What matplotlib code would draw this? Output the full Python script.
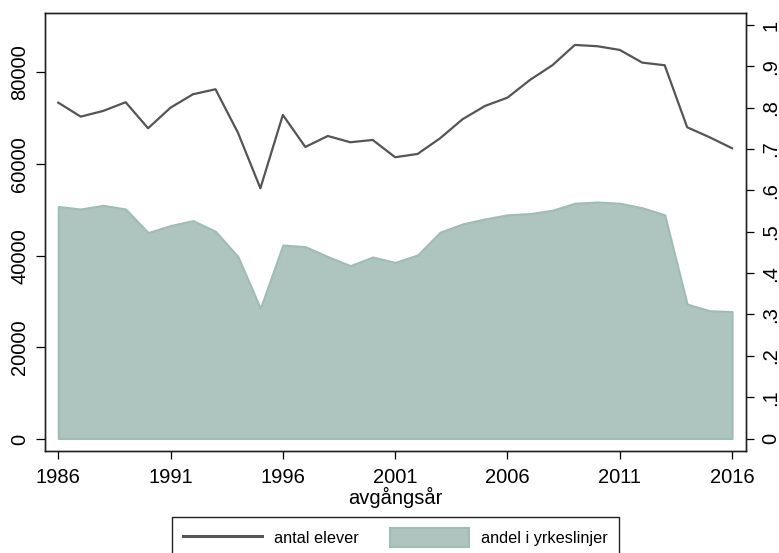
import matplotlib
matplotlib.use("Agg")
import matplotlib.pyplot as plt
from matplotlib.lines import Line2D
from matplotlib.patches import Patch

plt.rcParams['font.family'] = ['Liberation Sans', 'DejaVu Sans']

years = list(range(1986, 2017))
antal_elever = [73380, 70330, 71570, 73470, 67790, 72290, 75210, 76300, 66830, 54700,
                70700, 63710, 66110, 64740, 65240, 61470, 62190, 65610, 69760, 72660,
                74470, 78330, 81540, 85970, 85690, 84880, 82110, 81540, 68010, 65830,
                63430]
andel_yrke = [0.561, 0.555, 0.564, 0.555, 0.498, 0.515, 0.527, 0.501, 0.440, 0.315,
              0.468, 0.464, 0.440, 0.418, 0.439, 0.426, 0.444, 0.499, 0.519, 0.531,
              0.541, 0.544, 0.552, 0.569, 0.572, 0.569, 0.558, 0.541, 0.325, 0.309,
              0.307]
x_ticks = [1986, 1991, 1996, 2001, 2006, 2011, 2016]
left_ticks = [0, 20000, 40000, 60000, 80000]
right_ticks = [0, .1, .2, .3, .4, .5, .6, .7, .8, .9, 1]
right_labels = ['0', '.1', '.2', '.3', '.4', '.5', '.6', '.7', '.8', '.9', '1']
x_label = 'avgångsår'
legend_labels = ['antal elever', 'andel i yrkeslinjer']

W, H = 779, 553
fig = plt.figure(figsize=(W / 100, H / 100), dpi=100)
ax1 = fig.add_axes([45 / W, (H - 451) / H, (746 - 45) / W, (451 - 13) / H])
ax2 = ax1.twinx()

area_face = '#adc4bf'
area_edge = '#9fbcb5'
line_col = '#555555'

ax2.fill_between(years, 0, andel_yrke, facecolor=area_face, edgecolor=area_edge,
                 linewidth=1.5)
ax1.plot(years, antal_elever, color=line_col, linewidth=1.6)

ax1.set_zorder(ax2.get_zorder() + 1)
ax1.patch.set_visible(False)

ax1.set_xlim(1985.41, 2016.62)
ax1.set_ylim(-2618, 92937)
ax2.set_ylim(-0.0302, 1.029)

ax1.set_xticks(x_ticks)
ax1.set_xticklabels([str(t) for t in x_ticks])
ax1.set_yticks(left_ticks)
ax1.set_yticklabels([str(t) for t in left_ticks], rotation=90, va='center')
ax2.set_yticks(right_ticks)
ax2.set_yticklabels(right_labels, rotation=90, va='center')

fs = 14.5
ax1.tick_params(axis='x', labelsize=fs, length=6, width=0.9, pad=6, colors='#000000')
ax1.tick_params(axis='y', labelsize=fs, length=6.5, width=0.9, pad=5, colors='#000000')
ax2.tick_params(axis='y', labelsize=fs, length=6, width=0.9, pad=5, colors='#000000')

ax1.set_xlabel(x_label, fontsize=fs, labelpad=0)

for ax in (ax1, ax2):
    for s in ax.spines.values():
        s.set_linewidth(1.0)
        s.set_color('#222222')

handles = [Line2D([], [], color=line_col, linewidth=2.2),
           Patch(facecolor=area_face, edgecolor=area_edge, linewidth=1.5)]
leg = fig.legend(handles, legend_labels, loc='upper left',
                 bbox_to_anchor=(172 / W, 1 - 517 / H), ncol=2,
                 fontsize=11.7, frameon=True, fancybox=False,
                 edgecolor='#222222', framealpha=1, borderpad=0.7,
                 handlelength=4.85, handleheight=1.35, handletextpad=0.72,
                 columnspacing=1.95, borderaxespad=0)
leg.get_frame().set_linewidth(1.0)

fig.savefig('out.png', dpi=100)
